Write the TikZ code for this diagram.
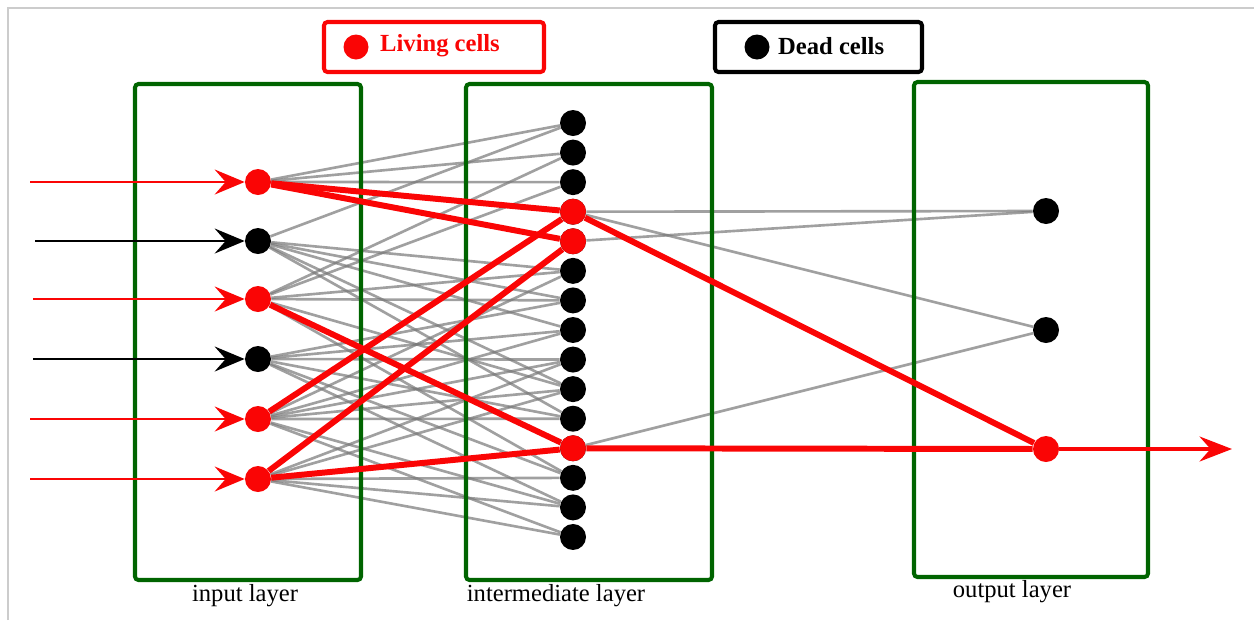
\documentclass[tikz,border=0pt]{standalone}
\usepackage{fontspec}
\setmainfont{Liberation Serif}
\usepackage{tikz}
\usetikzlibrary{arrows.meta, backgrounds}
\definecolor{livered}{RGB}{250, 5, 5}
\definecolor{layergreen}{RGB}{0, 100, 0}
\definecolor{edgegray}{RGB}{120, 120, 120}

\tikzset{
    livecell/.style={circle, fill=livered, inner sep=0pt, minimum size=0.52cm},
    deadcell/.style={circle, fill=black, inner sep=0pt, minimum size=0.52cm},
    layerbox/.style={layergreen, line width=2.3pt, rounded corners=2pt},
    grayedge/.style={edgegray, line width=1.5pt, opacity=0.7},
    rededge/.style={livered, line width=3.4pt},
    layerlabel/.style={font=\fontsize{14}{16}\selectfont},
}

\begin{document}
\begin{tikzpicture}[x=0.02cm, y=-0.02cm]
    \useasboundingbox (0,0) rectangle (1254,620);
    \draw[gray!40, line width=0.6pt] (8,620) -- (8,8) -- (1254,8);

    % Legend
    \draw[livered, line width=2.3pt, rounded corners=2pt] (324,22) rectangle (544,72);
    \node[livecell, minimum size=0.5cm] (livedot) at (356,47) {};
    \node[anchor=west, livered, font=\bfseries\fontsize{14}{16}\selectfont] (livetext) at (374,46) {Living cells};
    \draw[black, line width=2.3pt, rounded corners=2pt] (715,22) rectangle (922,72);
    \node[deadcell, minimum size=0.5cm] (deaddot) at (757,47) {};
    \node[anchor=west, font=\bfseries\fontsize{14}{16}\selectfont] (deadtext) at (772,46) {Dead cells};

    % Input layer cells
    \node[livecell] (in1) at (258,182) {};
    \node[deadcell] (in2) at (258,241) {};
    \node[livecell] (in3) at (258,299) {};
    \node[deadcell] (in4) at (258,359) {};
    \node[livecell] (in5) at (258,419) {};
    \node[livecell] (in6) at (258,479) {};

    % Intermediate layer cells
    \foreach \i in {1,...,15} {
        \node[deadcell] (m\i) at (573,{123+(\i-1)*29.57}) {};
    }
    \node[livecell] at (m4) {};
    \node[livecell] at (m5) {};
    \node[livecell] at (m12) {};

    % Output layer cells
    \node[deadcell] (out1) at (1046,211) {};
    \node[deadcell] (out2) at (1046,330) {};
    \node[livecell] (out3) at (1046,449) {};

    % Gray connections and layer boxes behind
    \begin{scope}[on background layer]
        \foreach \m in {1,2,3} \draw[grayedge] (in1) -- (m\m);
        \foreach \m in {1,6,7,8,10,11} \draw[grayedge] (in2) -- (m\m);
        \foreach \m in {2,3,6,7,10,13} \draw[grayedge] (in3) -- (m\m);
        \foreach \m in {7,8,9,11,13,14} \draw[grayedge] (in4) -- (m\m);
        \foreach \m in {6,8,9,10,11,14,15} \draw[grayedge] (in5) -- (m\m);
        \foreach \m in {9,10,13,14,15} \draw[grayedge] (in6) -- (m\m);
        \draw[grayedge] (m4) -- (out1);
        \draw[grayedge] (m5) -- (out1);
        \draw[grayedge] (m4) -- (out2);
        \draw[grayedge] (m12) -- (out2);

        \draw[layerbox] (135,84) rectangle (361,580);
        \draw[layerbox] (466,84) rectangle (712,580);
        \draw[layerbox] (914,82) rectangle (1148,577);
    \end{scope}

    % Layer names
    \node[layerlabel] (inlabel) at (245,596) {input layer};
    \node[layerlabel] (midlabel) at (556,596) {intermediate layer};
    \node[layerlabel] (outlabel) at (1012,592) {output layer};

    % Living paths
    \draw[rededge] (in1) -- (m4);
    \draw[rededge] (in1) -- (m5);
    \draw[rededge] (in3) -- (m12);
    \draw[rededge] (in5) -- (m4);
    \draw[rededge] (in6) -- (m5);
    \draw[rededge] (in6) -- (m12);
    \draw[rededge] (m4) -- (out3);
    \draw[rededge] (m12) -- (out3);

    % Input arrows
    \coordinate (src1) at (30,182);
    \coordinate (src2) at (35,241);
    \coordinate (src3) at (33,299);
    \coordinate (src4) at (33,359);
    \coordinate (src5) at (30,419);
    \coordinate (src6) at (30,479);
    \draw[livered, line width=1.2pt, -{Stealth[length=0.6cm, width=0.5cm, inset=0.22cm]}] (src1) -- (in1);
    \draw[black, line width=1.2pt, -{Stealth[length=0.6cm, width=0.5cm, inset=0.22cm]}] (src2) -- (in2);
    \draw[livered, line width=1.2pt, -{Stealth[length=0.6cm, width=0.5cm, inset=0.22cm]}] (src3) -- (in3);
    \draw[black, line width=1.2pt, -{Stealth[length=0.6cm, width=0.5cm, inset=0.22cm]}] (src4) -- (in4);
    \draw[livered, line width=1.2pt, -{Stealth[length=0.6cm, width=0.5cm, inset=0.22cm]}] (src5) -- (in5);
    \draw[livered, line width=1.2pt, -{Stealth[length=0.6cm, width=0.5cm, inset=0.22cm]}] (src6) -- (in6);

    % Output arrow
    \coordinate (sink) at (1232,449);
    \draw[livered, line width=2pt, -{Stealth[length=0.65cm, width=0.5cm, inset=0.22cm]}] (out3) -- (sink);
\end{tikzpicture}
\end{document}
